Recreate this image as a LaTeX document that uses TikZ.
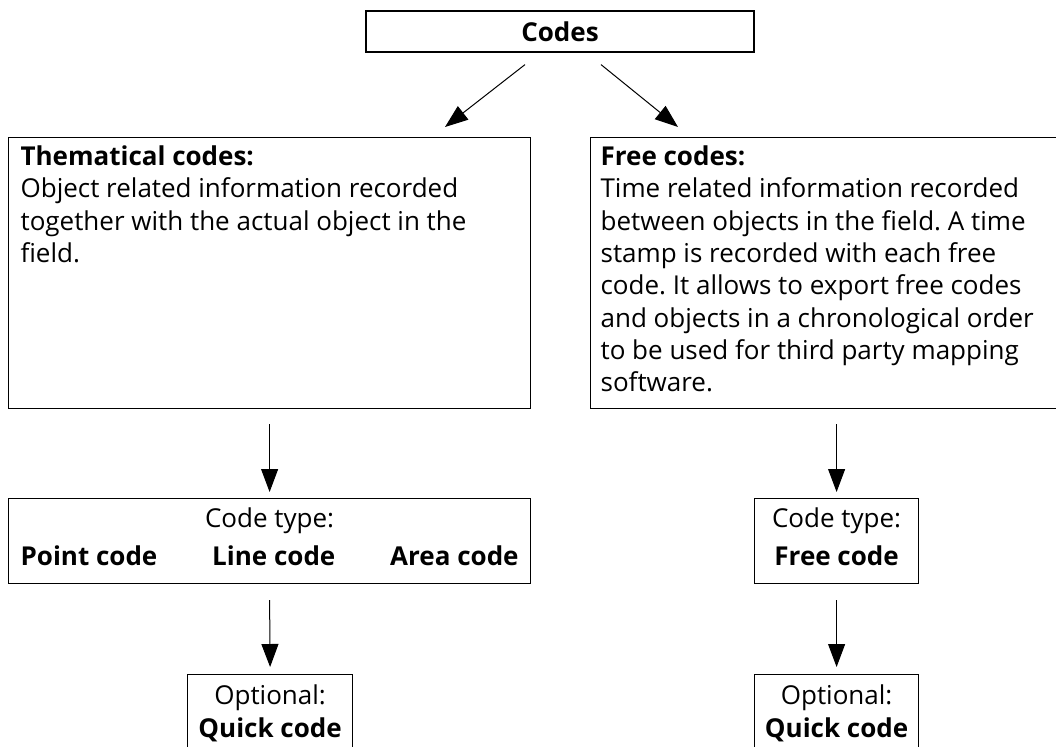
\documentclass[tikz,border=0pt]{standalone}
\usepackage{fontspec}
\setmainfont{Open Sans}
\frenchspacing
\usetikzlibrary{arrows.meta,calc}

\tikzset{
  codebox/.style={draw, line width=1.2pt, inner sep=0pt, anchor=north west},
  flow/.style={-{Triangle[length=23pt,width=17pt]}, line width=1pt},
}

\begin{document}
\begin{tikzpicture}[x=1pt,y=-1pt,font=\fontsize{26}{32.3}\selectfont]
\useasboundingbox (0,0) rectangle (1056,746);
\clip (0,0) rectangle (1056,746);

\node[draw, line width=1.2pt, minimum width=388pt, minimum height=41pt] (codes) at (560,31.5) {\textbf{Codes}};

\node[codebox, inner xsep=12pt, text height=28pt, text depth=243pt] (them) at (8,137)
  {\parbox[t]{498pt}{\textbf{Thematical codes:}\\Object related information recorded\\together with the actual object in the\\field.}};
\node[codebox, inner xsep=10pt, text height=28pt, text depth=243pt] (free) at (590,137)
  {\parbox[t]{464pt}{\textbf{Free codes:}\\Time related information recorded\\between objects in the field. A time\\stamp is recorded with each free\\code. It allows to export free codes\\and objects in a chronological order\\to be used for third party mapping\\software.}};

\node[codebox, inner xsep=12pt, text height=29pt, text depth=56pt] (ctleft) at (8,498)
  {\parbox[t]{498pt}{\makebox[498pt]{Code type:}\\[5.7pt]\makebox[498pt]{\textbf{Point code}\hfill\textbf{Line code}\hfill\textbf{Area code}}}};
\node[codebox, text height=29pt, text depth=56pt] (ctright) at (754,498)
  {\parbox[t]{164pt}{\makebox[164pt]{Code type:}\\[5.7pt]\makebox[164pt]{\textbf{Free code}}}};

\node[codebox, text height=30pt, text depth=60pt] (optleft) at (187,674)
  {\parbox[t]{165pt}{\makebox[165pt]{Optional:}\\[0.7pt]\makebox[165pt]{\textbf{Quick code}}}};
\node[codebox, text height=30pt, text depth=60pt] (optright) at (754,674)
  {\parbox[t]{164pt}{\makebox[164pt]{Optional:}\\[0.7pt]\makebox[164pt]{\textbf{Quick code}}}};

% arrows
\draw[flow] ($(codes.south)+(-35,12)$) -- ($(them.north west)+(437,-10)$);
\draw[flow] ($(codes.south)+(41,12)$) -- ($(free.north west)+(88,-10)$);
\draw[flow] ($(them.south)+(0,15)$) -- ($(ctleft.north)+(0,-6)$);
\draw[flow] ($(ctright.north |- free.south)+(0,15)$) -- ($(ctright.north)+(0,-6)$);
\draw[flow] ($(ctleft.south)+(0,16)$) -- ($(optleft.north)+(0,-7)$);
\draw[flow] ($(ctright.south)+(0,16)$) -- ($(optright.north)+(0,-7)$);
\end{tikzpicture}
\end{document}
